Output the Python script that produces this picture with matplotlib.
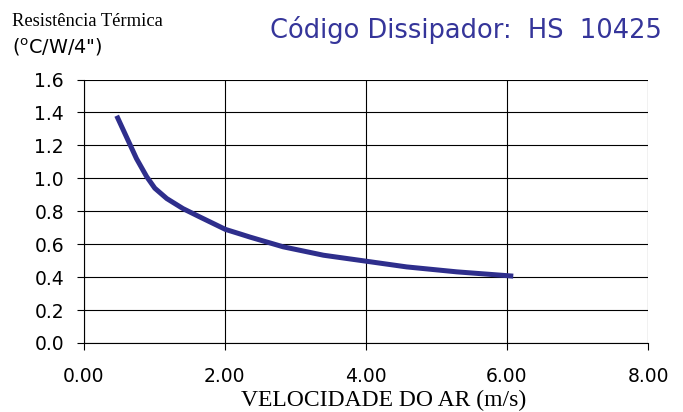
import matplotlib

matplotlib.use("Agg")

import matplotlib.pyplot as plt

# air velocity (m/s) vs thermal resistance (C/W/4")
velocity = [0.47, 0.61, 0.75, 0.895, 1.01, 1.18, 1.41, 1.65, 2.01, 2.22, 2.36,
            2.83, 3.40, 4.0, 4.58, 5.29, 6.09]
resistance = [1.38, 1.25, 1.12, 1.01, 0.94, 0.877, 0.816, 0.765, 0.69, 0.662, 0.643,
              0.584, 0.533, 0.497, 0.462, 0.432, 0.406]

x_ticks = [0, 2, 4, 6, 8]
x_tick_labels = ["0.00", "2.00", "4.00", "6.00", "8.00"]
y_ticks = [0.0, 0.2, 0.4, 0.6, 0.8, 1.0, 1.2, 1.4, 1.6]
y_tick_labels = ["0.0", "0.2", "0.4", "0.6", "0.8", "1.0", "1.2", "1.4", "1.6"]

fig = plt.figure(figsize=(6.83, 4.12), dpi=100)
ax = fig.add_axes([0.1223, 0.1675, 0.8265, 0.6395])

ax.plot(velocity, resistance, color="#2e2e8c", linewidth=3.6,
        solid_capstyle="butt", solid_joinstyle="round")

ax.set_xlim(0, 8)
ax.set_ylim(0, 1.6)
ax.set_xticks(x_ticks)
ax.set_xticklabels(x_tick_labels, fontsize=13.5)
ax.set_yticks(y_ticks)
ax.set_yticklabels(y_tick_labels, fontsize=13.5)
ax.tick_params(direction="out", length=5, width=0.8, color="black", pad=9)
ax.tick_params(axis="x", pad=12)
ax.grid(True, color="black", linewidth=0.8)
for side in ["top", "right"]:
    ax.spines[side].set_visible(False)
for side in ["left", "bottom"]:
    ax.spines[side].set_linewidth(0.8)

fig.text(0.5615, 0.0153, "VELOCIDADE DO AR (m/s)", family="Liberation Serif",
         fontsize=17, ha="center", va="baseline")

fig.text(0.018, 0.937, "Resistência Térmica", family="Liberation Serif",
         fontsize=13.4, va="baseline")
fig.text(0.018, 0.871, "($^{\\mathrm{o}}$C/W/4\")", fontsize=13.8, va="baseline")
fig.text(0.969, 0.927, "Código Dissipador:  HS  10425", color="#35359a",
         fontsize=18.5, ha="right", va="center")

fig.savefig("out.png", dpi=100)
